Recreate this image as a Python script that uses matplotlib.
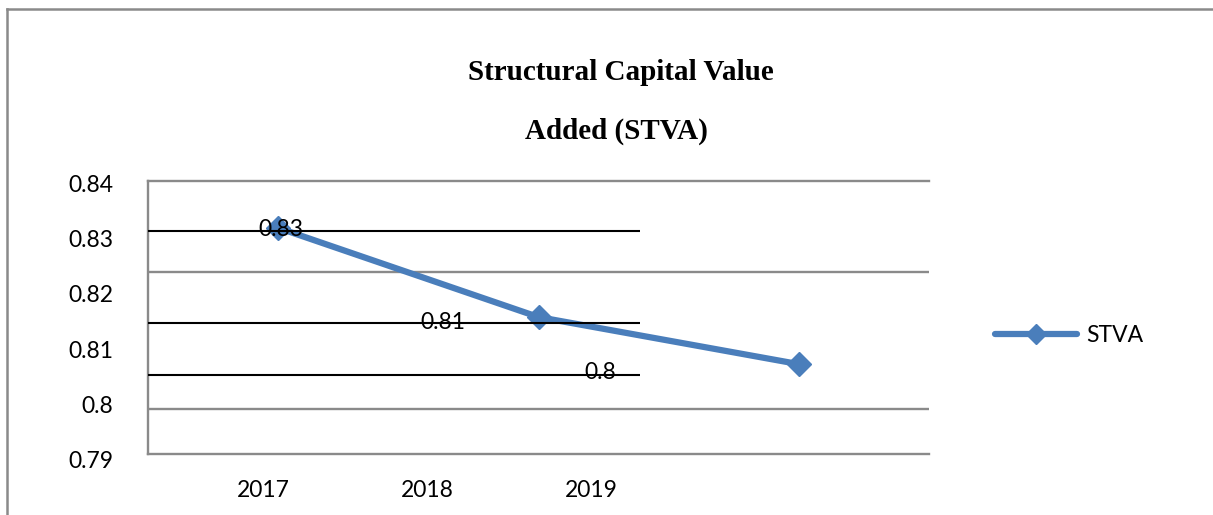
import matplotlib
matplotlib.use("Agg")
import matplotlib.pyplot as plt
from matplotlib.lines import Line2D

# ---- data ----
years = ["2017", "2018", "2019"]
stva = [0.8319, 0.8158, 0.8073]
data_labels = ["0.83", "0.81", "0.8"]
y_tick_values = [0.79, 0.80, 0.81, 0.82, 0.83, 0.84]
y_tick_labels = ["0.79", "0.8", "0.81", "0.82", "0.83", "0.84"]
title_lines = ["Structural Capital Value", "Added (STVA)"]
series_name = "STVA"

W, H = 1213, 515
DPI = 100
fig = plt.figure(figsize=(W / DPI, H / DPI), dpi=DPI)
fig.patch.set_facecolor("white")

def fx(px):
    return px / W

def fy(py):
    return 1 - py / H

LABEL_FONT = "Lato"
LABEL_SIZE = 16.5
BLUE = "#4A7EBB"
GRAY = "#8A8A8A"

# ---- helper axes carrying the (offset) tick labels ----
lab = fig.add_axes([fx(181), fy(460), fx(673) - fx(181), fy(183) - fy(460)])
lab.patch.set_visible(False)
for s in lab.spines.values():
    s.set_visible(False)
lab.set_xlim(-0.5, 2.5)
lab.set_ylim(0.79, 0.84)
lab.set_xticks(range(len(years)))
lab.set_xticklabels(years)
lab.set_yticks(y_tick_values)
lab.set_yticklabels(y_tick_labels)
lab.tick_params(axis="y", length=0, pad=49)
lab.tick_params(axis="x", length=0, pad=14.5)
for t in lab.get_xticklabels() + lab.get_yticklabels():
    t.set_fontfamily(LABEL_FONT)
    t.set_fontsize(LABEL_SIZE)
    t.set_color("black")

# ---- main plot area ----
ax = fig.add_axes([fx(148), fy(454), fx(929) - fx(148), fy(181) - fy(454)])
ax.patch.set_visible(False)
ax.set_xlim(-0.5, 2.5)
ax.set_ylim(0.79108, 0.84036)
ax.set_xticks([])
ax.set_yticks([])
ax.spines["right"].set_visible(False)
for side in ["left", "bottom", "top"]:
    ax.spines[side].set_color(GRAY)
    ax.spines[side].set_linewidth(1.7)

# gray gridlines (as rendered in the reference)
for gy in [0.82393, 0.79921]:
    ax.axhline(gy, color=GRAY, lw=1.7, zorder=1)

x = list(range(len(years)))
ax.plot(x, stva, color=BLUE, lw=4.5, marker="D", ms=12, mfc=BLUE, mec=BLUE,
        solid_capstyle="round", zorder=3, label=series_name, clip_on=False)

# data labels (offset as in the reference)
offsets = [(2, -1.5), (-69, -3.6), (-143, -5.8)]
for xi, yi, txt, off in zip(x, stva, data_labels, offsets):
    ax.annotate(txt, (xi, yi), xytext=off, textcoords="offset points",
                ha="center", va="center", fontsize=LABEL_SIZE,
                fontfamily=LABEL_FONT, color="black", zorder=4)

# black horizontal strokes across the left part of the plot
x_end = (640 - 148) / ((929 - 148) / 3.0) - 0.5
for by in [0.83134, 0.81473, 0.80534]:
    ax.plot([-0.5, x_end], [by, by], color="black", lw=1.5, zorder=5,
            solid_capstyle="butt")

# legend
leg = ax.legend(loc="center left", bbox_to_anchor=(fx(995), fy(336)),
                bbox_transform=fig.transFigure, frameon=False, borderpad=0,
                borderaxespad=0, handlelength=82 / (LABEL_SIZE * DPI / 72),
                handletextpad=0.4, numpoints=1, markerscale=0.85,
                prop={"family": LABEL_FONT, "size": LABEL_SIZE})

# title
fig.text(fx(621), fy(72), title_lines[0], ha="center", va="center",
         fontsize=21, fontweight="bold", fontfamily="Liberation Serif")
fig.text(fx(616), fy(131), title_lines[1], ha="center", va="center",
         fontsize=21, fontweight="bold", fontfamily="Liberation Serif")

# outer chart border (top and left only visible)
fig.add_artist(Line2D([fx(7), 1.0], [fy(9), fy(9)], color=GRAY, lw=1.8,
                      transform=fig.transFigure))
fig.add_artist(Line2D([fx(7), fx(7)], [fy(9), 0.0], color=GRAY, lw=1.8,
                      transform=fig.transFigure))

fig.savefig("out.png", dpi=DPI)
